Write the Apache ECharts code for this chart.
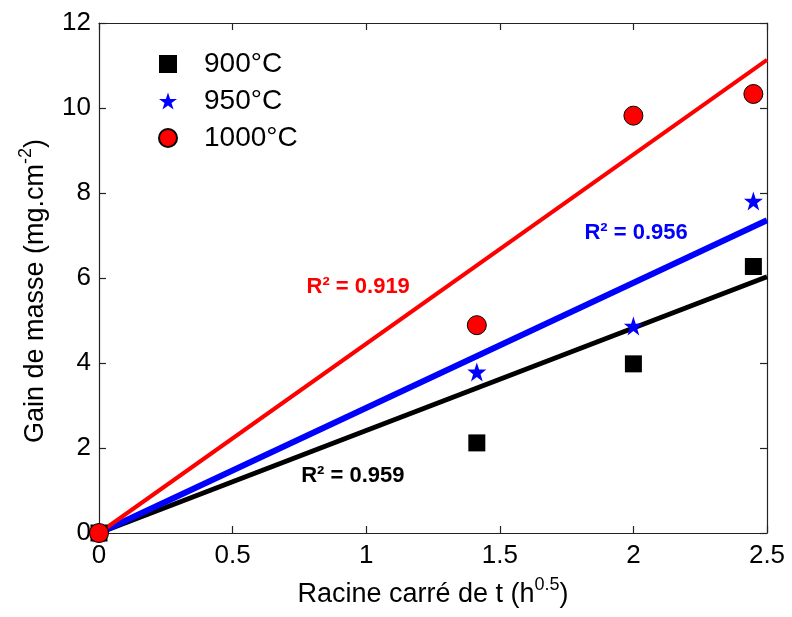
<!DOCTYPE html>
<html>
<head>
<meta charset="utf-8">
<script src="https://cdn.jsdelivr.net/npm/echarts@6/dist/echarts.min.js"></script>
<style>
  html, body { margin: 0; padding: 0; background: #fff; }
  #chart { width: 792px; height: 617px; }
</style>
</head>
<body>
<div id="chart"></div>
<script>
// racine du temps (h^0.5)
const sqrtT = [0, 1.414, 2, 2.449]
const gain900 = [0, 2.12, 3.98, 6.27]
const gain950 = [0, 3.79, 4.87, 7.81]
const gain1000 = [0, 4.89, 9.82, 10.33]

// droites de regression (valeurs aux extremites)
const fitX = [0, 2.5]
const fit900 = [0, 6.03]
const fit950 = [0, 7.36]
const fit1000 = [0, 11.13]

// etiquettes R2 : [x, y, texte]
const r2_900 = [0.95, 1.34, 'R² = 0.959']
const r2_950 = [2.01, 7.07, 'R² = 0.956']
const r2_1000 = [0.97, 5.78, 'R² = 0.919']

const xTicks = [0, 0.5, 1, 1.5, 2, 2.5]
const yTicks = [0, 2, 4, 6, 8, 10, 12]

const pts = (xs, ys) => xs.map((x, i) => [x, ys[i]])

const chart = echarts.init(document.getElementById('chart'))

const font = 'Liberation Sans, Arial, sans-serif'
const axisLine = { show: true, onZero: false, lineStyle: { color: '#222', width: 1.2 } }
const axisTick = { show: true, inside: true, length: 7, lineStyle: { color: '#222', width: 1.2 } }

const titleRich = {
  a: { fontFamily: font, fontSize: 27, color: '#000', lineHeight: 32, verticalAlign: 'bottom' },
  s: { fontFamily: font, fontSize: 18, color: '#000', lineHeight: 32, verticalAlign: 'top', padding: [0, 0, 14, 0] }
}

const r2Series = (lab, color) => ({
  type: 'scatter',
  data: [[lab[0], lab[1]]],
  symbolSize: 0,
  silent: true,
  z: 5,
  itemStyle: { opacity: 1 },
  label: {
    show: true,
    position: 'inside',
    formatter: lab[2],
    color: color,
    opacity: 1,
    fontFamily: font,
    fontSize: 22,
    fontWeight: 'bold'
  }
})

const fitSeries = (ys, color, width) => ({
  type: 'line',
  data: pts(fitX, ys),
  symbol: 'none',
  silent: true,
  z: 2,
  lineStyle: { color: color, width: width }
})

const option = {
  animation: false,
  grid: { left: 99, right: 25, top: 23, bottom: 84 },
  legend: {
    orient: 'vertical',
    left: 153,
    top: 45,
    itemGap: 9,
    itemWidth: 18,
    itemHeight: 18,
    textStyle: { fontFamily: font, fontSize: 28, color: '#000', padding: [0, 0, 0, 22] },
    data: ['900°C', '950°C', '1000°C']
  },
  xAxis: [{
    type: 'value',
    min: 0, max: 2.5, interval: 0.5,
    name: '{a|Racine carré de t (h}{s|0.5}{a|)}',
    nameLocation: 'middle',
    nameGap: 43,
    nameTextStyle: { rich: titleRich },
    axisLine: axisLine,
    axisTick: axisTick,
    splitLine: { show: false },
    axisLabel: {
      fontFamily: font, fontSize: 26, color: '#000', margin: 10,
      formatter: v => xTicks.includes(v) ? String(v) : ''
    }
  }, {
    type: 'value', position: 'top',
    min: 0, max: 2.5, interval: 0.5,
    axisLine: axisLine, axisTick: axisTick,
    axisLabel: { show: false }, splitLine: { show: false }
  }],
  yAxis: [{
    type: 'value',
    min: 0, max: 12, interval: 2,
    name: '{a|Gain de masse (mg.cm}{s|-2}{a|)}',
    nameLocation: 'middle',
    nameGap: 50,
    nameRotate: 90,
    nameTextStyle: { rich: titleRich, padding: [0, 26, 0, 0] },
    axisLine: axisLine,
    axisTick: axisTick,
    splitLine: { show: false },
    axisLabel: {
      fontFamily: font, fontSize: 26, color: '#000', margin: 8,
      formatter: v => yTicks.includes(v) ? String(v) : ''
    }
  }, {
    type: 'value', position: 'right',
    min: 0, max: 12, interval: 2,
    axisLine: axisLine, axisTick: axisTick,
    axisLabel: { show: false }, splitLine: { show: false }
  }],
  series: [
    fitSeries(fit900, '#000', 5),
    fitSeries(fit950, '#0000ff', 6),
    fitSeries(fit1000, '#ff0000', 4),
    {
      name: '900°C',
      type: 'scatter',
      data: pts(sqrtT, gain900),
      symbol: 'rect',
      symbolSize: 17,
      z: 4,
      itemStyle: { color: '#000', opacity: 1 }
    },
    {
      name: '950°C',
      type: 'scatter',
      data: pts(sqrtT, gain950),
      symbol: 'path://M50,0 L61.8,35.1 L98.9,35.1 L69.1,57.3 L80.2,92.7 L50,70.6 L19.8,92.7 L30.9,57.3 L1.1,35.1 L38.2,35.1 Z',
      symbolSize: 19,
      z: 4,
      itemStyle: { color: '#0000ff', opacity: 1 }
    },
    {
      name: '1000°C',
      type: 'scatter',
      data: pts(sqrtT, gain1000),
      symbol: 'circle',
      symbolSize: 19,
      z: 4,
      itemStyle: { color: '#ff0000', borderColor: '#000', borderWidth: 1, opacity: 1 }
    },
    r2Series(r2_900, '#000'),
    r2Series(r2_950, '#0000ff'),
    r2Series(r2_1000, '#ff0000')
  ]
}

chart.setOption(option)
</script>
</body>
</html>
